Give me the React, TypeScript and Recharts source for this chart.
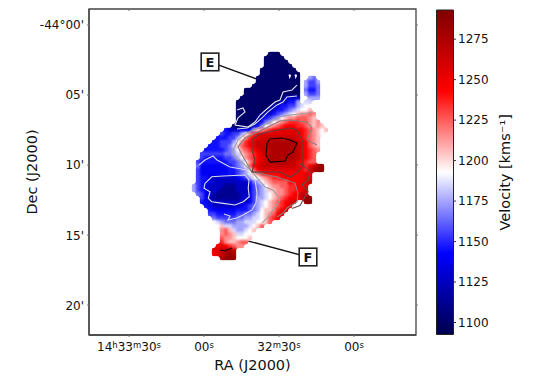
import React from 'react';
import { ScatterChart, Scatter, XAxis, YAxis, ReferenceDot, ReferenceLine, ReferenceArea, BarChart, Bar } from 'recharts';

const FONT = '"DejaVu Sans", sans-serif';

// Velocity bands (km/s) used by the map rows
const bandValues: Record<string, number> = {
  A: 1100, B: 1112, C: 1126, D: 1139, E: 1146, F: 1155, G: 1165, H: 1175, I: 1185, J: 1193,
  K: 1205, L: 1215, M: 1225, N: 1235, O: 1245, P: 1255, Q: 1265, R: 1275, S: 1285,
};

// Map rows, north to south: run-length coded (count + band, "." = no emission)
const mapRows = [
  '19.3A', '18.5A', '18.6A', '18.7A', '17.9A', '17.10A', '16.11A2.1H1G', '16.11A1.1H2F1H',
  '15.12A1.1H2F1G', '13.14A1.1G2E1G', '13.14A1.1H2F1G', '12.11A4C2.3H', '11.11A2C2E1H1.2I',
  '11.9A2C2E2F1H1I1J', '11.8A2C2E1F1G1H1I2J1K', '11.6A1B2C1E1F1G1H1I1J1K2L1M1L',
  '11.5A1B1C1E1F1G1H1J1K2L3M1L1K', '11.5A1C1E1G1H1J1K1L1M3N2M1L1K1L',
  '10.5A1C1E1G1J1K1L1M1N3O2N1M1L1K1L1K', '8.1E3C2D1E1H1K1L1M1N2O5P1O1N1M1L1K1J1K',
  '7.1F2E2F1H1J1L1N1O1P9P1O1N1M1L1K1J', '6.3E2F1H1J1L1N1O2P8Q1P1O1N1M1L1K',
  '5.2E3F1H1J1L1N1O1P3Q7R1Q1P1O1M1L1K', '4.3E2F1G1I1K1M1N1O1P3Q7R1Q1P1O1M1L1K',
  '3.5E1F1G1H1J1L1M1N1O1P2Q7R1Q1P1O1N1M1L', '2.6F2G1H1I1K1L1M1N1O1P1Q7R1Q1P1O1N1M',
  '2.1F5E2F1G1H1J1L1M1N1O1P1Q7R1Q1P1O1N1M', '1.1F7E2F1G1H1J1L1N1O1P1Q5R2Q1P1O1N2M',
  '1.1G6D2E1F1G1H1J1M1O1P9Q1P1O1N1O1Q1R1S', '1.1F7D2E1F1G1H1J1M1O10P1O1N1P1R2S',
  '1.1F7D2E1F1G1H1J1K1L1N10O2P', '1.1F2E7C1D1E1F1H2J1K1L1M2N6O2P',
  '1.1F1E2D9C1E1G1H1J1K1L4M4O1P1Q', '1H1F1E1D4C3B3C1D1F1G1H1J1K2L2M2N2O1P',
  '1H1F1E1D3C4B3C1D1F1G1H1I1K1K2L1M2N2O1Q', '1.1G1F1D2C6B2C1D1F1G1H1I1J1K2L1M1N2O1Q1P',
  '2.1F1D1C7B2C1D1F2H1I1J1K1L1M1N2O1P1Q2S', '2.1E1D10C1D1F1H1I1J1K1L1M1N1O1P1Q2.2S',
  '3.1E1D7C1D1E1F1G1H1I1J1K1L1M1N1O1P', '4.1E6D2E1E1F1G1H1J2K1L1N1O1P',
  '4.2F5E2F2G1H1I1J1K1L1M1O1P', '5.1G5F2G2H2I1J1K1M1N1O', '5.1J1I1H3G2H3I2J1K1M',
  '6.1J1K2I4H1I1J1K1M', '7.1L1M1K1I2H1I1J1K', '7.1L1M1L1K2I2J', '7.1M2L1K3J1K',
  '7.1N1L2K1L2M', '6.1O1P1O1N1M2L', '5.2P1Q2R1Q', '5.1O1P1Q1R1S1R', '7.1R3S',
];
const mapRaStart = 64; // seconds after 14h32m00s, first column
const mapRaStep = -1.6;
const mapDecStart = 2.0714; // arcmin south of -44 deg, first row
const mapDecStep = 0.2857;

// Iso-velocity contours: [RA seconds after 14h32m, arcmin south of -44 deg]
const contour1125Lobe = [[59.6,11.31],[56.9,10.84],[52.3,10.79],[43.6,10.71],[42,11.07],[42.3,11.66],[41.9,12.26],[44.3,12.62],[47.6,12.86],[52.3,12.74],[56.9,12.62],[58.3,12.38],[57.6,11.91],[60,11.66],[59.6,11.31]];
const contour1150Lobe = [[62,10],[59.6,9.64],[56.4,9.36],[54.8,9.64],[49.6,10.14],[42.8,10.36],[39.6,11.07],[38.8,12],[39.2,12.71],[40.8,13.21],[44.4,13.57],[46.8,13.79],[50.4,13.93],[49.6,13.64],[52,13.5]];
const contour1125North = [[22.8,4.29],[24.8,4.64],[28.4,4.79],[29.6,5.36],[31.6,5.5],[34.4,5.93],[37.6,6.43],[39.6,6.93],[42.4,7.29],[47.6,7.14],[46.4,6.64],[43.6,6.21],[44.4,5.93],[46.8,6.07]];
const contour1150North = [[22.8,5.07],[26.8,5.14],[28.4,5.5],[30.8,5.71],[34.4,6.21],[36.8,6.64],[39.6,7.07],[42.8,7.36],[46.8,7.43]];
const contour1200 = [[16.8,6.21],[18.4,6.29],[25.6,6.43],[29.6,6.57],[34.4,7],[37.6,7.29],[42.8,7.71],[46.4,8.21],[48.4,8.93],[47.6,9.43],[43.6,10],[40.8,10.5],[35.6,11.57],[32.4,11.79],[30.8,12.14],[29.6,12.5],[32.4,13.21],[34.8,13.79],[36.8,14.14]];
const contour1225 = [[14.8,8.57],[18.8,8.21],[16.8,7.36],[18.8,6.93],[25.6,6.79],[29.6,6.86],[37.6,7.57],[43.6,8.07],[46.4,8.71],[44.8,9.29],[40.8,10.5],[30.8,10.86],[23.6,11.29],[22.4,12],[22.8,12.64],[26.8,13.07],[28.4,13.43],[30.8,13.71]];
const contour1250 = [[40.8,8.21],[38.4,7.86],[34.8,7.64],[25.6,7.36],[22.8,7.5],[20.4,8.36],[20.4,9.64],[20.4,10],[22.4,10.5],[25.6,10.86],[29.6,10.5],[40.8,10.5],[39.6,9.64],[40.8,8.93],[40.8,8.21]];
const contour1275 = [[34.8,8.43],[33.6,8.14],[28.8,8.07],[25.6,8.21],[22.8,8.43],[24.4,9.07],[26.4,9.29],[27.6,9.71],[33.6,9.79],[35.2,9.29],[34.8,8.43]];
const contour1275South = [[53.6,16.07],[51.6,16.14],[48.8,15.93]];
const contourEastEdge = [[22,9.9],[19.6,10.1],[17.6,10.5],[18.4,11.1],[20.8,11.4],[18.4,11.9],[21.6,12.9],[24.8,13.1]];
const speckA = [[26,3.55],[25.4,3.6],[25.7,3.75],[26,3.55]];
const speckB = [[23.6,3.55],[23,3.6],[23.3,3.75],[23.6,3.55]];

const raTicks = [90, 60, 30, 0];
const raLabels: Record<number, [string, string][]> = {
  90: [['14', 'h'], ['33', 'm'], ['30', 's']],
  60: [['00', 's']],
  30: [['32', 'm'], ['30', 's']],
  0: [['00', 's']],
};
const decTicks = [0, 5, 10, 15, 20];
const decLabels: Record<number, string> = { 0: "-44°00'", 5: "05'", 10: "10'", 15: "15'", 20: "20'" };
const velocityTicks = [1100, 1125, 1150, 1175, 1200, 1225, 1250, 1275];
const velocityRange = [1092.6, 1293];
const raDomain = [-24.8, 106];
const decDomain = [-1.14, 22.14];

const annotationE = { label: 'E', box: [57.6, 2.64], end: [34.8, 4.12] };
const annotationF = { label: 'F', box: [18.4, 16.57], end: [48.4, 15.14] };

// matplotlib "seismic"
const seismic: [number, number, number, number][] = [
  [0, 0, 0, 77], [0.25, 0, 0, 255], [0.5, 255, 255, 255], [0.75, 255, 0, 0], [1, 128, 0, 0],
];
function colorFor(v: number) {
  const t = Math.max(0, Math.min(1, (v - velocityRange[0]) / (velocityRange[1] - velocityRange[0])));
  for (let i = 1; i < seismic.length; i++) {
    if (t <= seismic[i][0]) {
      const a = seismic[i - 1], b = seismic[i];
      const f = (t - a[0]) / (b[0] - a[0]);
      return `rgb(${[1, 2, 3].map((k) => Math.round(a[k] + (b[k] - a[k]) * f)).join(',')})`;
    }
  }
  return 'rgb(128,0,0)';
}

const cells: { ra: number; dec: number; vel: number }[] = [];
mapRows.forEach((row, r) => {
  let c = 0;
  for (const m of row.matchAll(/(\d+)([A-Z.])/g)) {
    const n = Number(m[1]);
    if (m[2] !== '.') {
      for (let i = 0; i < n; i++) {
        cells.push({ ra: mapRaStart + mapRaStep * (c + i), dec: mapDecStart + mapDecStep * r, vel: bandValues[m[2]] });
      }
    }
    c += n;
  }
});

const pts = (a: number[][]) => a.map(([ra, dec]) => ({ ra, dec }));

const contours: { data: number[][]; stroke: string }[] = [
  { data: contour1125Lobe, stroke: '#dcdcf0' },
  { data: contour1150Lobe, stroke: '#d4d4ea' },
  { data: contour1125North, stroke: '#e6e6f4' },
  { data: contour1150North, stroke: '#d8d8ee' },
  { data: speckA, stroke: '#ffffff' },
  { data: speckB, stroke: '#ffffff' },
  { data: contour1200, stroke: '#a0a0a0' },
  { data: contour1225, stroke: '#8a7f7f' },
  { data: contourEastEdge, stroke: '#6a4a4a' },
  { data: contour1250, stroke: '#5c4040' },
  { data: contour1275, stroke: '#100000' },
  { data: contour1275South, stroke: '#200000' },
];

const CellShape = (p: any) => {
  const v = p.payload?.vel ?? p.vel;
  return <rect x={p.cx - 2.1} y={p.cy - 2.1} width={4.2} height={4.2} fill={colorFor(v)} />;
};

const RaTick = (p: any) => {
  const parts = raLabels[p.payload.value] || [];
  return (
    <text x={p.x} y={p.y + 12} textAnchor="middle" fontFamily={FONT} fontSize={12} fill="#111">
      {parts.map(([big, sup], i) => (
        <React.Fragment key={i}>
          <tspan dy={i === 0 ? 0 : 3}>{big}</tspan>
          <tspan dy={-3} fontSize={8.5}>{sup}</tspan>
        </React.Fragment>
      ))}
    </text>
  );
};

const DecTick = (p: any) => (
  <text x={p.x - 1} y={p.y + 4.5} textAnchor="end" fontFamily={FONT} fontSize={12} fill="#111">
    {decLabels[p.payload.value]}
  </text>
);

const BoxLabel = (label: string) => (p: any) => (
  <g>
    <rect x={p.cx - 8.8} y={p.cy - 8.8} width={17.6} height={17.6} fill="#fff" stroke="#222" strokeWidth={1.6} />
    <text x={p.cx} y={p.cy + 4.8} textAnchor="middle" fontFamily={FONT} fontSize={13} fontWeight={700} fill="#111">{label}</text>
  </g>
);

const axisLine = { stroke: '#444', strokeWidth: 1.3 };
const tickLine = { stroke: '#777' };

export default function App() {
  return (
    <div style={{ position: 'absolute', left: 0, top: 0, width: 540, height: 382 }}>
      <style>{`.vel-map{filter:url(#vel-smooth)}`}</style>
      <svg width={0} height={0} style={{ position: 'absolute' }}>
        <defs>
          <filter id="vel-smooth" x="-10%" y="-10%" width="120%" height="120%" colorInterpolationFilters="sRGB">
            <feGaussianBlur stdDeviation="1.25" />
            <feComponentTransfer>
              <feFuncA type="linear" slope="5" intercept="-1.7" />
            </feComponentTransfer>
          </filter>
        </defs>
      </svg>
      <div style={{ position: 'absolute', left: 0, top: 0 }}>
        <ScatterChart width={430} height={382} margin={{ top: 9, right: 14, bottom: 0, left: 0 }}>
          <XAxis type="number" dataKey="ra" reversed domain={raDomain} ticks={raTicks} height={47} allowDataOverflow
            tick={<RaTick />} tickSize={2} axisLine={axisLine} tickLine={tickLine} interval={0}
            label={{ value: 'RA (J2000)', position: 'insideBottom', offset: 12, style: { fontFamily: FONT, fontSize: 14.5, fill: '#111' } }} />
          <YAxis type="number" dataKey="dec" reversed domain={decDomain} ticks={decTicks} width={89} allowDataOverflow
            tick={<DecTick />} tickSize={2} axisLine={axisLine} tickLine={tickLine} interval={0}
            label={{ value: 'Dec (J2000)', angle: -90, position: 'insideLeft', offset: 32, style: { textAnchor: 'middle', fontFamily: FONT, fontSize: 14.5, fill: '#111' } }} />
          <ReferenceArea x1={raDomain[0]} x2={raDomain[1]} y1={decDomain[0]} y2={decDomain[1]}
            fill="none" fillOpacity={0} stroke="#444" strokeWidth={1.3} ifOverflow="visible" />
          {raTicks.map((t) => (
            <ReferenceLine key={`rt${t}`} segment={[{ x: t, y: decDomain[0] }, { x: t, y: decDomain[0] + 0.14 }]} stroke="#777" ifOverflow="visible" />
          ))}
          {decTicks.map((t) => (
            <ReferenceLine key={`dt${t}`} segment={[{ x: raDomain[0], y: t }, { x: raDomain[0] - 0.8, y: t }]} stroke="#777" ifOverflow="visible" />
          ))}
          <Scatter className="vel-map" data={cells} shape={CellShape} isAnimationActive={false} />
          {contours.map((c, i) => (
            <Scatter key={i} data={pts(c.data)} line={{ stroke: c.stroke, strokeWidth: 1.1 }} lineType="joint"
              shape={() => null} isAnimationActive={false} />
          ))}
          {[annotationE, annotationF].map((a) => (
            <ReferenceLine key={a.label} segment={[{ x: a.box[0], y: a.box[1] }, { x: a.end[0], y: a.end[1] }]}
              stroke="#111" strokeWidth={1.4} ifOverflow="visible" />
          ))}
          {[annotationE, annotationF].map((a) => (
            <ReferenceDot key={a.label} x={a.box[0]} y={a.box[1]} r={9} shape={BoxLabel(a.label)} ifOverflow="visible" />
          ))}
        </ScatterChart>
      </div>
      <div style={{ position: 'absolute', left: 430, top: 0 }}>
        <BarChart width={110} height={382} data={[{ name: 'velocity', range: velocityRange }]}
          margin={{ top: 10, right: 0, bottom: 47.5, left: 6.5 }} barCategoryGap={0}>
          <defs>
            <linearGradient id="cbar" x1="0" y1="1" x2="0" y2="0">
              {seismic.map((s) => (
                <stop key={s[0]} offset={s[0]} stopColor={`rgb(${s[1]},${s[2]},${s[3]})`} />
              ))}
            </linearGradient>
          </defs>
          <XAxis dataKey="name" hide />
          <YAxis orientation="right" type="number" domain={velocityRange} ticks={velocityTicks} width={87} interval={0}
            tickSize={3} axisLine={false} tickLine={{ stroke: '#333' }}
            tick={{ fontFamily: FONT, fontSize: 12, fill: '#111' }}
            label={{ value: 'Velocity [kms⁻¹]', angle: -90, position: 'insideRight', offset: 35, style: { textAnchor: 'middle', fontFamily: FONT, fontSize: 14.5, fill: '#111' } }} />
          <Bar dataKey="range" fill="url(#cbar)" stroke="#222" strokeWidth={1} isAnimationActive={false} />
        </BarChart>
      </div>
    </div>
  );
}
